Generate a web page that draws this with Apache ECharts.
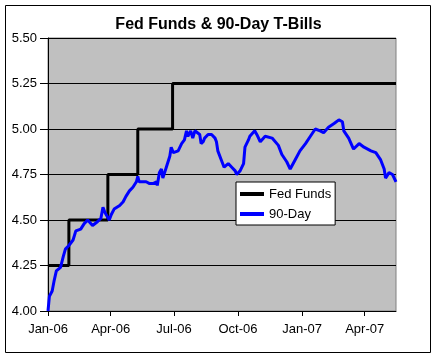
<!DOCTYPE html>
<html>
<head>
<meta charset="utf-8">
<script src="https://cdn.jsdelivr.net/npm/echarts@6/dist/echarts.min.js"></script>
<style>html,body{margin:0;padding:0;background:#fff;}#c{width:437px;height:359px;}</style>
</head>
<body>
<div id="c"></div>
<script>
// Days since 1 Jan 2006
var tickDays = [0, 90, 181, 273, 365, 455];
var tickLabels = ['Jan-06', 'Apr-06', 'Jul-06', 'Oct-06', 'Jan-07', 'Apr-07'];

var fedDays = [0, 30, 86, 129, 179, 500];
var fedRates = [4.25, 4.50, 4.75, 5.00, 5.25, 5.25];

var tbillDays = [0,2,6,9,12,18,22,25,30,36,40,47,52,57,64,71,76,79,82,88,91,95,103,108,112,117,122,127,129,131,141,146,151,156,157,160,163,165,170,175,177,180,187,192,196,199,201,205,208,211,213,218,220,223,225,230,235,237,240,242,244,249,253,259,264,269,271,276,281,283,288,290,297,300,305,312,322,331,336,343,348,355,362,370,377,384,391,396,403,411,418,423,425,432,439,447,454,464,471,478,483,485,490,495,500];
var tbillRates = [4.00,4.08,4.11,4.17,4.22,4.24,4.30,4.34,4.36,4.39,4.44,4.45,4.48,4.50,4.47,4.49,4.51,4.57,4.54,4.50,4.53,4.56,4.58,4.60,4.63,4.66,4.68,4.71,4.74,4.71,4.71,4.70,4.70,4.71,4.69,4.76,4.78,4.73,4.79,4.85,4.90,4.87,4.88,4.92,4.94,4.99,4.96,4.99,4.95,4.99,4.98,4.97,4.92,4.93,4.95,4.97,4.97,4.97,4.95,4.93,4.88,4.83,4.79,4.81,4.79,4.77,4.75,4.77,4.81,4.90,4.94,4.96,4.99,4.97,4.93,4.96,4.95,4.91,4.86,4.82,4.78,4.83,4.88,4.92,4.96,5.00,4.99,4.98,5.01,5.03,5.05,5.04,4.99,4.95,4.89,4.92,4.90,4.88,4.87,4.83,4.78,4.73,4.76,4.75,4.71];

function zip(a, b) { return a.map(function (v, i) { return [v, b[i]]; }); }

var font = "'Liberation Sans', Arial, sans-serif";
var chart = echarts.init(document.getElementById('c'), null, {renderer: 'canvas'});
chart.setOption({
  backgroundColor: '#fff',
  animation: false,
  title: {
    text: 'Fed Funds & 90-Day T-Bills',
    left: 'center',
    top: 12,
    textStyle: {fontFamily: font, fontSize: 16, fontWeight: 'bold', color: '#000'}
  },
  graphic: [{
    type: 'rect',
    shape: {x: 5.5, y: 5.5, width: 425, height: 347},
    style: {fill: 'none', stroke: '#000', lineWidth: 1},
    silent: true
  }],
  legend: {
    orient: 'vertical',
    left: 236,
    top: 182,
    backgroundColor: '#fff',
    borderColor: '#000',
    borderWidth: 1,
    borderRadius: 0,
    padding: [5, 4, 4, 4],
    itemWidth: 24,
    itemHeight: 4,
    itemGap: 6,
    icon: 'rect',
    textStyle: {fontFamily: font, fontSize: 13, color: '#000', lineHeight: 14},
    data: ['Fed Funds', '90-Day']
  },
  grid: {
    left: 48, top: 38, right: 41, bottom: 48,
    show: true, backgroundColor: '#c0c0c0', borderColor: '#808080', borderWidth: 1
  },
  xAxis: {
    type: 'value',
    min: 0, max: 500,
    axisLine: {show: true, onZero: false, lineStyle: {color: '#000', width: 1}},
    axisTick: {show: true, length: 5, customValues: tickDays, lineStyle: {color: '#000'}},
    axisLabel: {
      customValues: tickDays,
      margin: 12,
      fontFamily: font, fontSize: 13, color: '#000',
      formatter: function (v) { var i = tickDays.indexOf(v); return i >= 0 ? tickLabels[i] : ''; }
    },
    splitLine: {show: false}
  },
  yAxis: {
    type: 'value',
    min: 4, max: 5.5, interval: 0.25,
    axisLine: {show: true, lineStyle: {color: '#000', width: 1}},
    axisTick: {show: true, length: 8, lineStyle: {color: '#000'}},
    axisLabel: {margin: 11, fontFamily: font, fontSize: 13, color: '#000',
      formatter: function (v) { return v.toFixed(2); }},
    splitLine: {show: true, lineStyle: {color: '#000', width: 1}}
  },
  series: [{
    name: 'Fed Funds',
    type: 'line',
    step: 'end',
    symbol: 'none',
    color: '#000',
    lineStyle: {color: '#000', width: 3},
    data: zip(fedDays, fedRates)
  }, {
    name: '90-Day',
    type: 'line',
    symbol: 'none',
    color: '#0000ff',
    lineStyle: {color: '#0000ff', width: 3},
    data: zip(tbillDays, tbillRates)
  }]
});
</script>
</body>
</html>
